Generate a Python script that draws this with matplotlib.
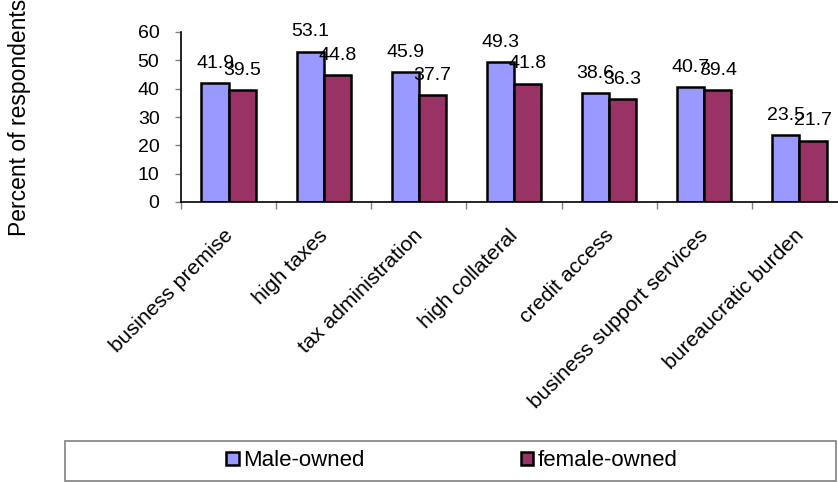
import matplotlib.pyplot as plt
import numpy as np
from matplotlib.patches import Rectangle
from matplotlib.transforms import ScaledTranslation

plt.rcParams["font.family"] = ["Liberation Sans", "DejaVu Sans"]

categories = [
    "business premise",
    "high taxes",
    "tax administration",
    "high collateral",
    "credit access",
    "business support services",
    "bureaucratic burden",
]
male_owned = [41.9, 53.1, 45.9, 49.3, 38.6, 40.7, 23.5]
female_owned = [39.5, 44.8, 37.7, 41.8, 36.3, 39.4, 21.7]

male_color = "#9999FF"
female_color = "#993366"

fig = plt.figure(figsize=(8.38, 4.82), dpi=100)
# plot area runs a little past the right edge of the canvas
ax = fig.add_axes([181 / 838, 280 / 482, 666 / 838, 170 / 482])

x = np.arange(len(categories))
w = 0.285
b1 = ax.bar(x - w / 2, male_owned, w, color=male_color, edgecolor="black",
            linewidth=1.8, label="Male-owned")
b2 = ax.bar(x + w / 2, female_owned, w, color=female_color, edgecolor="black",
            linewidth=1.8, label="female-owned")

for xs, vals in ((x - w / 2, male_owned), (x + w / 2, female_owned)):
    for xi, v in zip(xs, vals):
        ax.annotate(f"{v:.1f}", (xi, v), xytext=(0, 8), textcoords="offset points",
                    ha="center", va="bottom", fontsize=14)

ax.set_xlim(-0.5, len(categories) - 0.5)
ax.set_ylim(0, 60)
ax.set_yticks(range(0, 61, 10))
ax.tick_params(axis="y", labelsize=14, length=4.5, color="gray", width=1, pad=11)

ax.set_xticks(x)
ax.set_xticklabels(categories, rotation=45, ha="right", rotation_mode="anchor",
                   fontsize=15.3)
ax.tick_params(axis="x", length=0, pad=17)
# nudge the slanted labels a bit left so they end at the group centre
shift = ScaledTranslation(-4 / 72, 0, fig.dpi_scale_trans)
for lbl in ax.get_xticklabels():
    lbl.set_transform(lbl.get_transform() + shift)
ax.set_xticks(np.arange(-0.5, len(categories)), minor=True)
ax.tick_params(axis="x", which="minor", length=5, color="gray", width=1)

for side in ("top", "right"):
    ax.spines[side].set_visible(False)
for side in ("left", "bottom"):
    ax.spines[side].set_linewidth(1.2)

fig.text(20 / 838, 1 - 117 / 482, "Percent of respondents", rotation=90,
         ha="center", va="center", fontsize=16.5)

# legend frame drawn separately so it spans the full width
fig.patches.append(Rectangle((65 / 838, 1 / 482), (836 - 65) / 838, 40 / 482,
                             transform=fig.transFigure, facecolor="white",
                             edgecolor="gray", linewidth=1.2))
fig.legend(handles=[b1, b2], loc="center", bbox_to_anchor=(452 / 838, 1 - 461 / 482),
           ncol=2, frameon=False, fontsize=16, handlelength=0.55, handleheight=0.55,
           handletextpad=0.22, columnspacing=7.0, borderpad=0, borderaxespad=0)

fig.savefig("out.png", dpi=100)
